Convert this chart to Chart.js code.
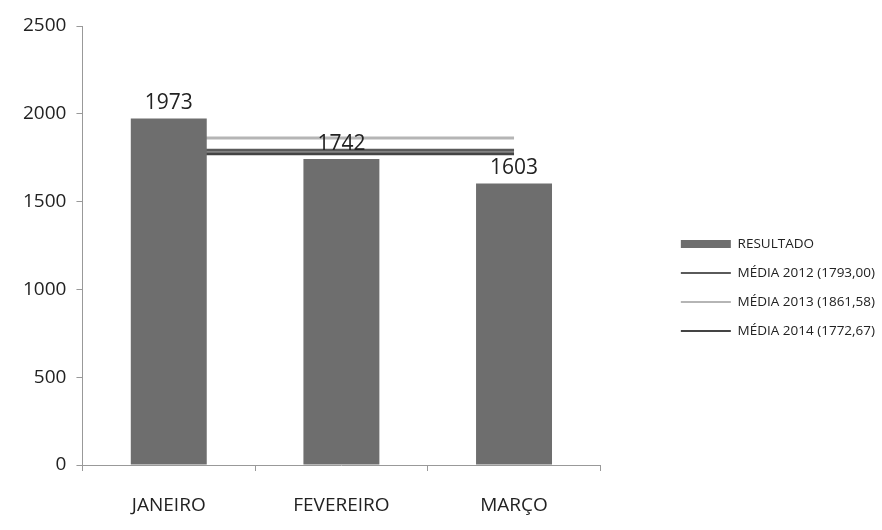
<!DOCTYPE html>
<html>
<head>
<meta charset="utf-8">
<script src="https://cdn.jsdelivr.net/npm/chart.js@4"></script>
<style>
  html, body { margin: 0; padding: 0; background: #fff; }
  #wrap { width: 882px; height: 530px; }
</style>
</head>
<body>
<div id="wrap"><canvas id="chart"></canvas></div>
<script>
let meses = ['JANEIRO', 'FEVEREIRO', 'MARÇO'];
let resultado = [1973, 1742, 1603];
let media2012 = [1793.00, 1793.00, 1793.00];
let media2013 = [1861.58, 1861.58, 1861.58];
let media2014 = [1772.67, 1772.67, 1772.67];
let nomes = ['RESULTADO', 'MÉDIA 2012 (1793,00)', 'MÉDIA 2013 (1861,58)', 'MÉDIA 2014 (1772,67)'];

const FONT = '"Open Sans", "DejaVu Sans", sans-serif';

// numbers over the bars
const valueLabels = {
  id: 'valueLabels',
  beforeLayout(chart) {
    // legend would otherwise be capped at a quarter of the width
    const lg = chart.legend;
    if (lg && !lg._wide) {
      const fit = lg.fit;
      lg.fit = function() { this.maxWidth = 300; fit.call(this); };
      lg._wide = true;
    }
  },
  afterDatasetsDraw(chart) {
    const ctx = chart.ctx;
    const meta = chart.getDatasetMeta(0);
    ctx.save();
    ctx.font = '21px ' + FONT;
    ctx.fillStyle = '#222';
    ctx.textAlign = 'center';
    ctx.textBaseline = 'bottom';
    meta.data.forEach(function(bar, i) {
      ctx.fillText(String(resultado[i]), bar.x, bar.y - 5);
    });
    ctx.restore();
  }
};

document.addEventListener('DOMContentLoaded', function() {
  var ctx = document.getElementById('chart').getContext('2d');
  new Chart(ctx, {
    data: {
      labels: meses,
      datasets: [
        {
          type: 'bar',
          label: nomes[0],
          data: resultado,
          backgroundColor: '#6e6e6e',
          borderWidth: 0,
          barPercentage: 0.44,
          categoryPercentage: 1,
          order: 0
        },
        {
          type: 'line',
          label: nomes[1],
          data: media2012,
          borderColor: '#5a5a5a',
          borderWidth: 3,
          pointRadius: 0,
          order: 1
        },
        {
          type: 'line',
          label: nomes[2],
          data: media2013,
          borderColor: '#b5b5b5',
          borderWidth: 3,
          pointRadius: 0,
          order: 2
        },
        {
          type: 'line',
          label: nomes[3],
          data: media2014,
          borderColor: '#444444',
          borderWidth: 3,
          pointRadius: 0,
          order: 3
        }
      ]
    },
    options: {
      responsive: true,
      maintainAspectRatio: false,
      animation: false,
      layout: { padding: { top: 26, bottom: 0, left: 13, right: -3 } },
      plugins: {
        tooltip: { enabled: false },
        legend: {
          position: 'right',
          title: { display: true, text: ' ', font: { size: 10 }, padding: 3.5 },
          labels: {
            usePointStyle: true,
            boxWidth: 50,
            pointStyleWidth: 50,
            boxHeight: 8,
            padding: 15.5,
            color: '#222',
            font: { family: FONT, size: 13.5 },
            generateLabels: function(chart) {
              const items = Chart.defaults.plugins.legend.labels.generateLabels(chart);
              items.forEach(function(it) {
                const ds = chart.data.datasets[it.datasetIndex];
                if (ds.type === 'bar') {
                  it.pointStyle = 'rect';
                  it.fillStyle = ds.backgroundColor;
                  it.strokeStyle = ds.backgroundColor;
                  it.lineWidth = 0;
                } else {
                  it.pointStyle = 'line';
                  it.strokeStyle = ds.borderColor;
                  it.lineWidth = 2;
                }
              });
              return items;
            }
          }
        }
      },
      scales: {
        x: {
          grid: { display: true, drawOnChartArea: false, offset: true, tickLength: 6, color: '#999' },
          border: { display: true, color: '#999', width: 1 },
          ticks: { color: '#222', padding: 23, font: { family: FONT, size: 19 } },
          afterFit: function(s) { s.height = 65; }
        },
        y: {
          min: 0,
          max: 2500,
          grid: { display: true, drawOnChartArea: false, tickLength: 6, color: '#999' },
          border: { display: true, color: '#999', width: 1 },
          ticks: {
            stepSize: 500,
            color: '#222',
            padding: 10,
            font: { family: FONT, size: 19 },
            callback: function(v) { return String(v); }
          }
        },
        gap: {
          axis: 'y',
          position: 'right',
          display: true,
          grid: { display: false },
          border: { display: false },
          ticks: { display: false },
          afterFit: function(s) { s.width = 65; }
        }
      }
    },
    plugins: [valueLabels]
  });
});
</script>
</body>
</html>
